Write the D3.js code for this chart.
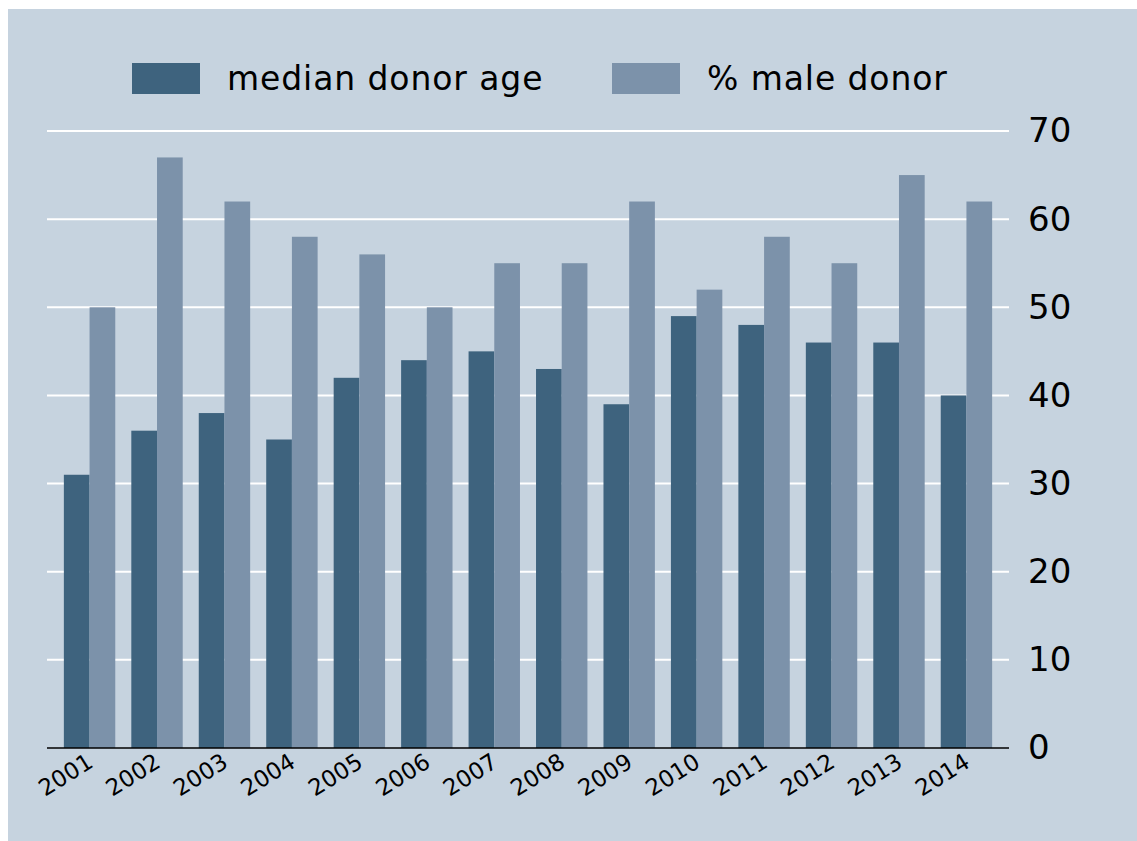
<!doctype html><html><head>
<style>
  body { margin: 0; background: #fff; }
  text { font-family: "DejaVu Sans", Verdana, sans-serif; fill: #000; }
</style>
</head><body><script src='https://d3js.org/d3.v7.min.js'></script>

<script>
// Data
const years     = ["2001","2002","2003","2004","2005","2006","2007","2008","2009","2010","2011","2012","2013","2014"];
const medianAge = [31, 36, 38, 35, 42, 44, 45, 43, 39, 49, 48, 46, 46, 40];
const pctMale   = [50, 67, 62, 58, 56, 50, 55, 55, 62, 52, 58, 55, 65, 62];
const yTicks    = [0, 10, 20, 30, 40, 50, 60, 70];
const seriesNames = ["median donor age", "% male donor"];
const colors      = ["#3e637e", "#7c92aa"];

// Dimensions
const W = 1137, H = 841;
const plotLeft = 47, plotRight = 1009, plotTop = 131, plotBottom = 748;

const svg = d3.select("body").append("svg")
              .attr("width", W)
              .attr("height", H);

// panel background
svg.append("rect")
   .attr("x", 8).attr("y", 9)
   .attr("width", W - 8).attr("height", H - 9)
   .attr("fill", "#c6d3df");

// scales
const x = d3.scaleBand()
            .domain(years)
            .range([plotLeft, plotRight])
            .paddingInner(0.238)
            .paddingOuter(0.25);

const xs = d3.scaleBand()
             .domain([0, 1])
             .range([0, x.bandwidth()]);

const y = d3.scaleLinear()
            .domain([0, 70])
            .range([plotBottom, plotTop]);

// gridlines
svg.append("g")
   .selectAll("line")
   .data(yTicks.filter(d => d > 0))
   .join("line")
   .attr("x1", plotLeft).attr("x2", plotRight)
   .attr("y1", d => y(d)).attr("y2", d => y(d))
   .attr("stroke", "#ffffff")
   .attr("stroke-width", 2);

// bars
const rows = years.map((yr, i) => ({ year: yr, vals: [medianAge[i], pctMale[i]] }));

svg.append("g")
   .selectAll("g")
   .data(rows)
   .join("g")
   .attr("transform", d => `translate(${x(d.year)},0)`)
   .selectAll("rect")
   .data(d => d.vals.map((v, k) => ({ k: k, v: v })))
   .join("rect")
   .attr("x", d => xs(d.k))
   .attr("width", xs.bandwidth())
   .attr("y", d => y(d.v))
   .attr("height", d => y(0) - y(d.v))
   .attr("fill", d => colors[d.k]);

// x axis line
svg.append("line")
   .attr("x1", plotLeft).attr("x2", plotRight)
   .attr("y1", plotBottom).attr("y2", plotBottom)
   .attr("stroke", "#000")
   .attr("stroke-width", 1.5);

// x labels
svg.append("g")
   .selectAll("text")
   .data(years)
   .join("text")
   .attr("transform", d => `translate(${x(d) + x.bandwidth() / 2 + 5},${plotBottom + 18}) rotate(-32)`)
   .attr("text-anchor", "end")
   .attr("font-size", 23)
   .text(d => d);

// right y axis
const yAxis = svg.append("g")
   .attr("transform", `translate(${plotRight},0)`)
   .call(d3.axisRight(y).tickValues(yTicks).tickSize(0).tickPadding(19));
yAxis.select(".domain").remove();
yAxis.selectAll("text")
     .attr("font-size", 34)
     .attr("font-family", '"DejaVu Sans", Verdana, sans-serif')
     .attr("fill", "#000");

// legend
const legendX = [132, 612];
const lg = svg.append("g")
   .selectAll("g")
   .data(seriesNames)
   .join("g")
   .attr("transform", (d, i) => `translate(${legendX[i]},63)`);

lg.append("rect")
  .attr("width", 68).attr("height", 31)
  .attr("fill", (d, i) => colors[i]);

lg.append("text")
  .attr("x", 95).attr("y", 27)
  .attr("font-size", 33)
  .attr("letter-spacing", 0.9)
  .text(d => d);

</script></body></html>
